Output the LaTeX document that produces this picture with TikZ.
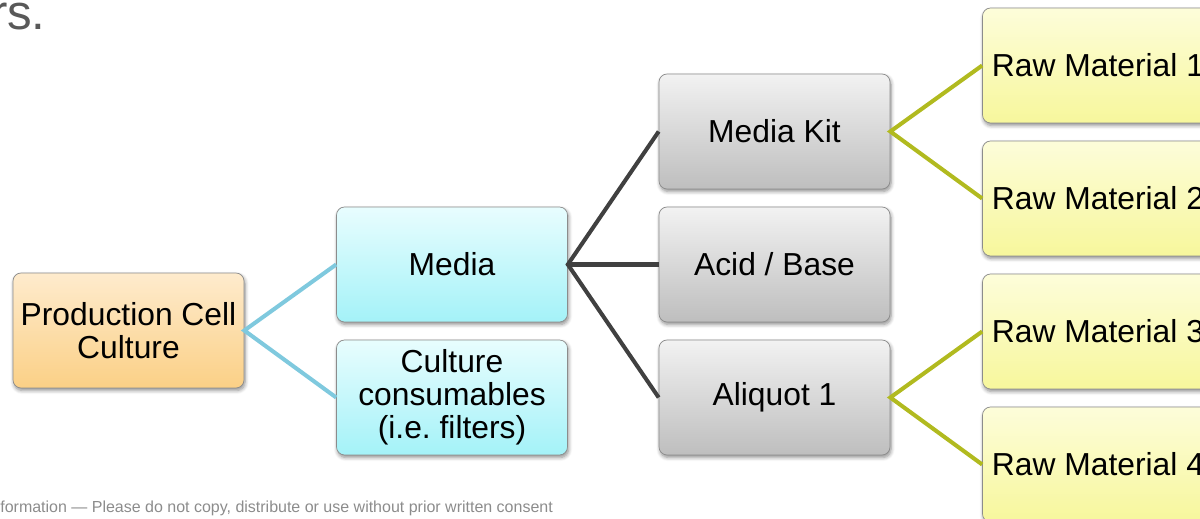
\documentclass[tikz,border=0pt]{standalone}
\usepackage{fontspec}
\setmainfont{Liberation Sans}
\usetikzlibrary{shadows.blur}
\definecolor{RootTop}{HTML}{FEEBCD}
\definecolor{RootBot}{HTML}{FBD086}
\definecolor{CyanTop}{HTML}{E8FDFE}
\definecolor{CyanBot}{HTML}{A4F2F8}
\definecolor{GrayTop}{HTML}{F2F2F2}
\definecolor{GrayBot}{HTML}{BEBEBE}
\definecolor{YellTop}{HTML}{FDFDDA}
\definecolor{YellBot}{HTML}{F7F79C}
\definecolor{LinkCyan}{HTML}{7FC9DE}
\definecolor{LinkGray}{HTML}{404040}
\definecolor{LinkOlive}{HTML}{B1BA1F}

\begin{document}
\begin{tikzpicture}[
    x=0.02cm, y=-0.02cm,
    box/.style={
        rectangle, rounded corners=0.16cm, draw=black!45, thin,
        minimum width=4.62cm, minimum height=2.3cm, inner sep=0,
        align=center, font=\fontsize{18.1}{18.7}\selectfont\frenchspacing,
        blur shadow={shadow xshift=0.6pt, shadow yshift=-1.4pt,
            shadow blur steps=6, shadow opacity=45}},
    rootbox/.style={box, top color=RootTop, bottom color=RootBot},
    cyanbox/.style={box, top color=CyanTop, bottom color=CyanBot},
    graybox/.style={box, top color=GrayTop, bottom color=GrayBot},
    yellbox/.style={box, top color=YellTop, bottom color=YellBot},
    link/.style={line width=2.3pt}]

\useasboundingbox (0,0) rectangle (1200,519);
\clip (0,0) rectangle (1200,519);

% title remnant and footer
\node (TITLE) [anchor=base east, inner sep=0, text=black!65,
    font=\fontsize{28}{30}\selectfont] at (46,30) {rs.};
\node (FOOTER) [anchor=base west, inner sep=0, text=black!45,
    font=\fontsize{9.1}{10}\selectfont] at (0,513)
    {formation --- Please do not copy, distribute or use without prior written consent};

% tree
\node (PCC)   [rootbox] at (128.5,330.5) {Production Cell\\Culture};
\node (MEDIA) [cyanbox] at (452,264.5)   {Media};
\node (CONS)  [cyanbox] at (452,397.5)   {Culture\\consumables\\(i.e. filters)};
\node (KIT)   [graybox] at (774.5,131.5) {Media Kit};
\node (ACID)  [graybox] at (774.5,264.5) {Acid / Base};
\node (ALIQ)  [graybox] at (774.5,397.5) {Aliquot 1};
\node (RM1)   [yellbox] at (1098,65.5)   {Raw Material 1};
\node (RM2)   [yellbox] at (1098,198.5)  {Raw Material 2};
\node (RM3)   [yellbox] at (1098,331.5)  {Raw Material 3};
\node (RM4)   [yellbox] at (1098,464.5)  {Raw Material 4};

\draw[link, LinkCyan] (MEDIA.west) -- (PCC.east) -- (CONS.west);
\draw[link, LinkGray] (KIT.west) -- (MEDIA.east) -- (ALIQ.west);
\draw[link, LinkGray] (MEDIA.east) -- (ACID.west);
\draw[link, LinkOlive] (RM1.west) -- (KIT.east) -- (RM2.west);
\draw[link, LinkOlive] (RM3.west) -- (ALIQ.east) -- (RM4.west);

\end{tikzpicture}
\end{document}
